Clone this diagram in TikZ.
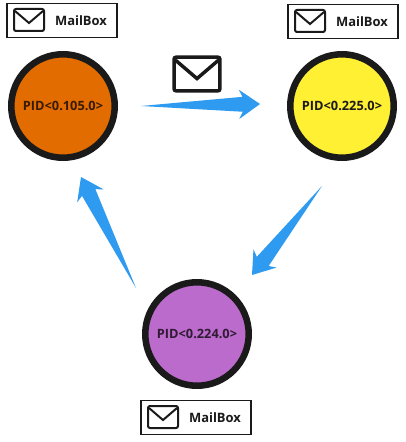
\documentclass[tikz,border=0pt]{standalone}
\usepackage{fontspec}
\setmainfont{Open Sans}
\usetikzlibrary{calc}
\definecolor{arrowblue}{HTML}{2F9BF0}
\definecolor{ringdark}{HTML}{1A1A1A}
\definecolor{procorange}{HTML}{E36C00}
\definecolor{procyellow}{HTML}{FFF033}
\definecolor{procpurple}{HTML}{BB6BCB}
\tikzset{
  x=.75pt,y=-.75pt,
  proc/.style={circle,draw=ringdark,line width=4.9pt,minimum size=77.6pt,inner sep=0pt,
    font=\bfseries\fontsize{9.6}{11}\selectfont},
  mbox/.style={draw=ringdark,line width=1.3pt,fill=white,minimum width=83pt,minimum height=25.5pt,inner sep=0pt},
  mlabel/.style={inner sep=0pt,text=ringdark,font=\bfseries\fontsize{9.7}{11}\selectfont},
  pics/envelope/.style={code={
    \draw[ringdark,line width=#1,rounded corners=1.5pt] (-15,-11) rectangle (15,11);
    \draw[ringdark,line width=#1,line join=miter] (-14,-9) -- (0,3) -- (14,-9);
  }}
}
% tapered arrow from named coordinate #1 to named coordinate #2
\newcommand{\taper}[2]{%
  \path ($(#2)!15.75pt!(#1)$) coordinate (hb) ($(#2)!13pt!(#1)$) coordinate (hn);
  \fill[arrowblue,line join=round] (#1)
    -- ($(hn)!5.6pt!90:(#2)$) -- ($(hb)!11pt!90:(#2)$) -- (#2)
    -- ($(hb)!11pt!-90:(#2)$) -- ($(hn)!5.6pt!-90:(#2)$) -- cycle;
}
\begin{document}
\begin{tikzpicture}
\useasboundingbox (0,0) rectangle (405,442);
\fill[white] (0,0) rectangle (405,442);
\node[proc,fill=procorange,text=black!75!procorange] (p1) at (63,106) {PID<0.105.0>};
\node[proc,fill=procyellow,text=ringdark] (p2) at (342,106) {PID<0.225.0>};
\node[proc,fill=procpurple,text=black!75!procpurple] (p3) at (197,334) {PID<0.224.0>};
\node[mbox] (m1) at (62,20.5) {};
\node[mbox] (m2) at (343,21.5) {};
\node[mbox] (m3) at (196,417.5) {};
\node[mlabel] (t1) at (81,20.5) {MailBox};
\node[mlabel] (t2) at (362,21.5) {MailBox};
\node[mlabel] (t3) at (215,418) {MailBox};
\pic at (29,20) {envelope=1.5pt};
\pic at (310,21) {envelope=1.5pt};
\pic at (163,417) {envelope=1.5pt};
\pic[scale=1.53] at (197,74) {envelope=2.6pt};
\coordinate (a1) at (141,106); \coordinate (b1) at (260,104);
\coordinate (a2) at (322,186); \coordinate (b2) at (252,275);
\coordinate (a3) at (136,288); \coordinate (b3) at (81,177);
\taper{a1}{b1}
\taper{a2}{b2}
\taper{a3}{b3}
\end{tikzpicture}
\end{document}
